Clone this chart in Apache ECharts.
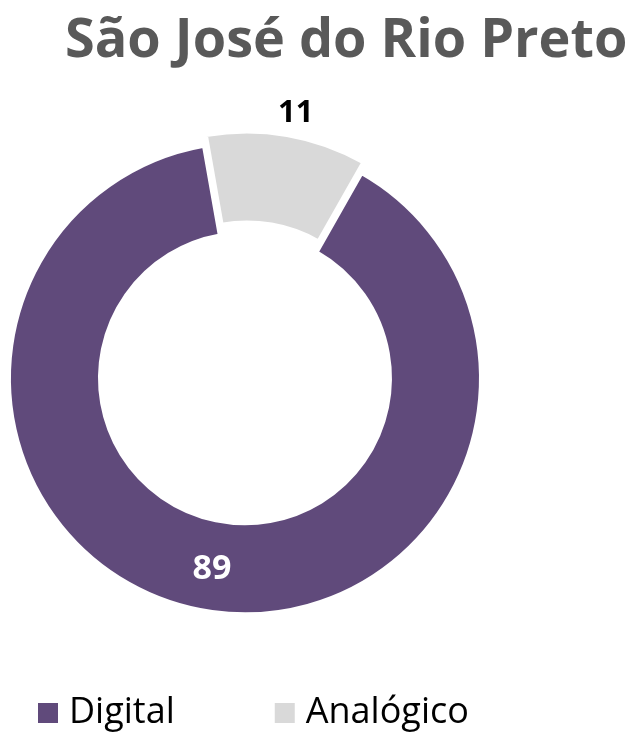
<!DOCTYPE html>
<html><head><meta charset="utf-8">
<script src="https://cdn.jsdelivr.net/npm/echarts@6/dist/echarts.min.js"></script>
<style>html,body{margin:0;padding:0;background:#fff}#c{width:633px;height:736px}</style>
</head><body><div id="c"></div>
<script>
const titleText = 'São José do Rio Preto';
const categories = ['Digital', 'Analógico'];
const values = [89, 11];
const colors = ['#604A7B', '#D9D9D9'];
const labelColors = ['#ffffff', '#000000'];

const chart = echarts.init(document.getElementById('c'), null, {renderer: 'canvas'});
const data = categories.map((name, i) => ({
  name, value: values[i],
  selected: i === 1,
  itemStyle: {color: colors[i]},
  label: i === 1
    ? {position: 'outside', color: labelColors[i], fontSize: 31}
    : {position: 'inside', color: labelColors[i], fontSize: 34},
  labelLine: {show: false, length: 22, length2: 0}
}));
chart.setOption({
  animation: false,
  title: {
    text: titleText, left: 60, top: 10,
    textStyle: {fontFamily: 'Open Sans, sans-serif', fontWeight: 'bold', fontSize: 54, color: '#595959'}
  },
  legend: {
    bottom: 0, left: 31, icon: 'rect', itemWidth: 22, itemHeight: 22, itemGap: 98,
    data: categories,
    textStyle: {fontFamily: 'Open Sans, sans-serif', fontSize: 36, color: '#000', padding: [0, 0, 0, 5]}
  },
  series: [{
    type: 'pie',
    center: ['38.7%', '51.4%'],
    radius: [145, 236],
    startAngle: 60.4,
    clockwise: true,
    selectedMode: 'single',
    selectedOffset: 11,
    emphasis: {disabled: true},
    itemStyle: {borderColor: '#fff', borderWidth: 4},
    label: {show: true, formatter: '{c}', fontFamily: 'Open Sans, sans-serif', fontWeight: 'bold'},
    labelLayout: {align: 'center'},
    data
  }]
});
</script></body></html>
